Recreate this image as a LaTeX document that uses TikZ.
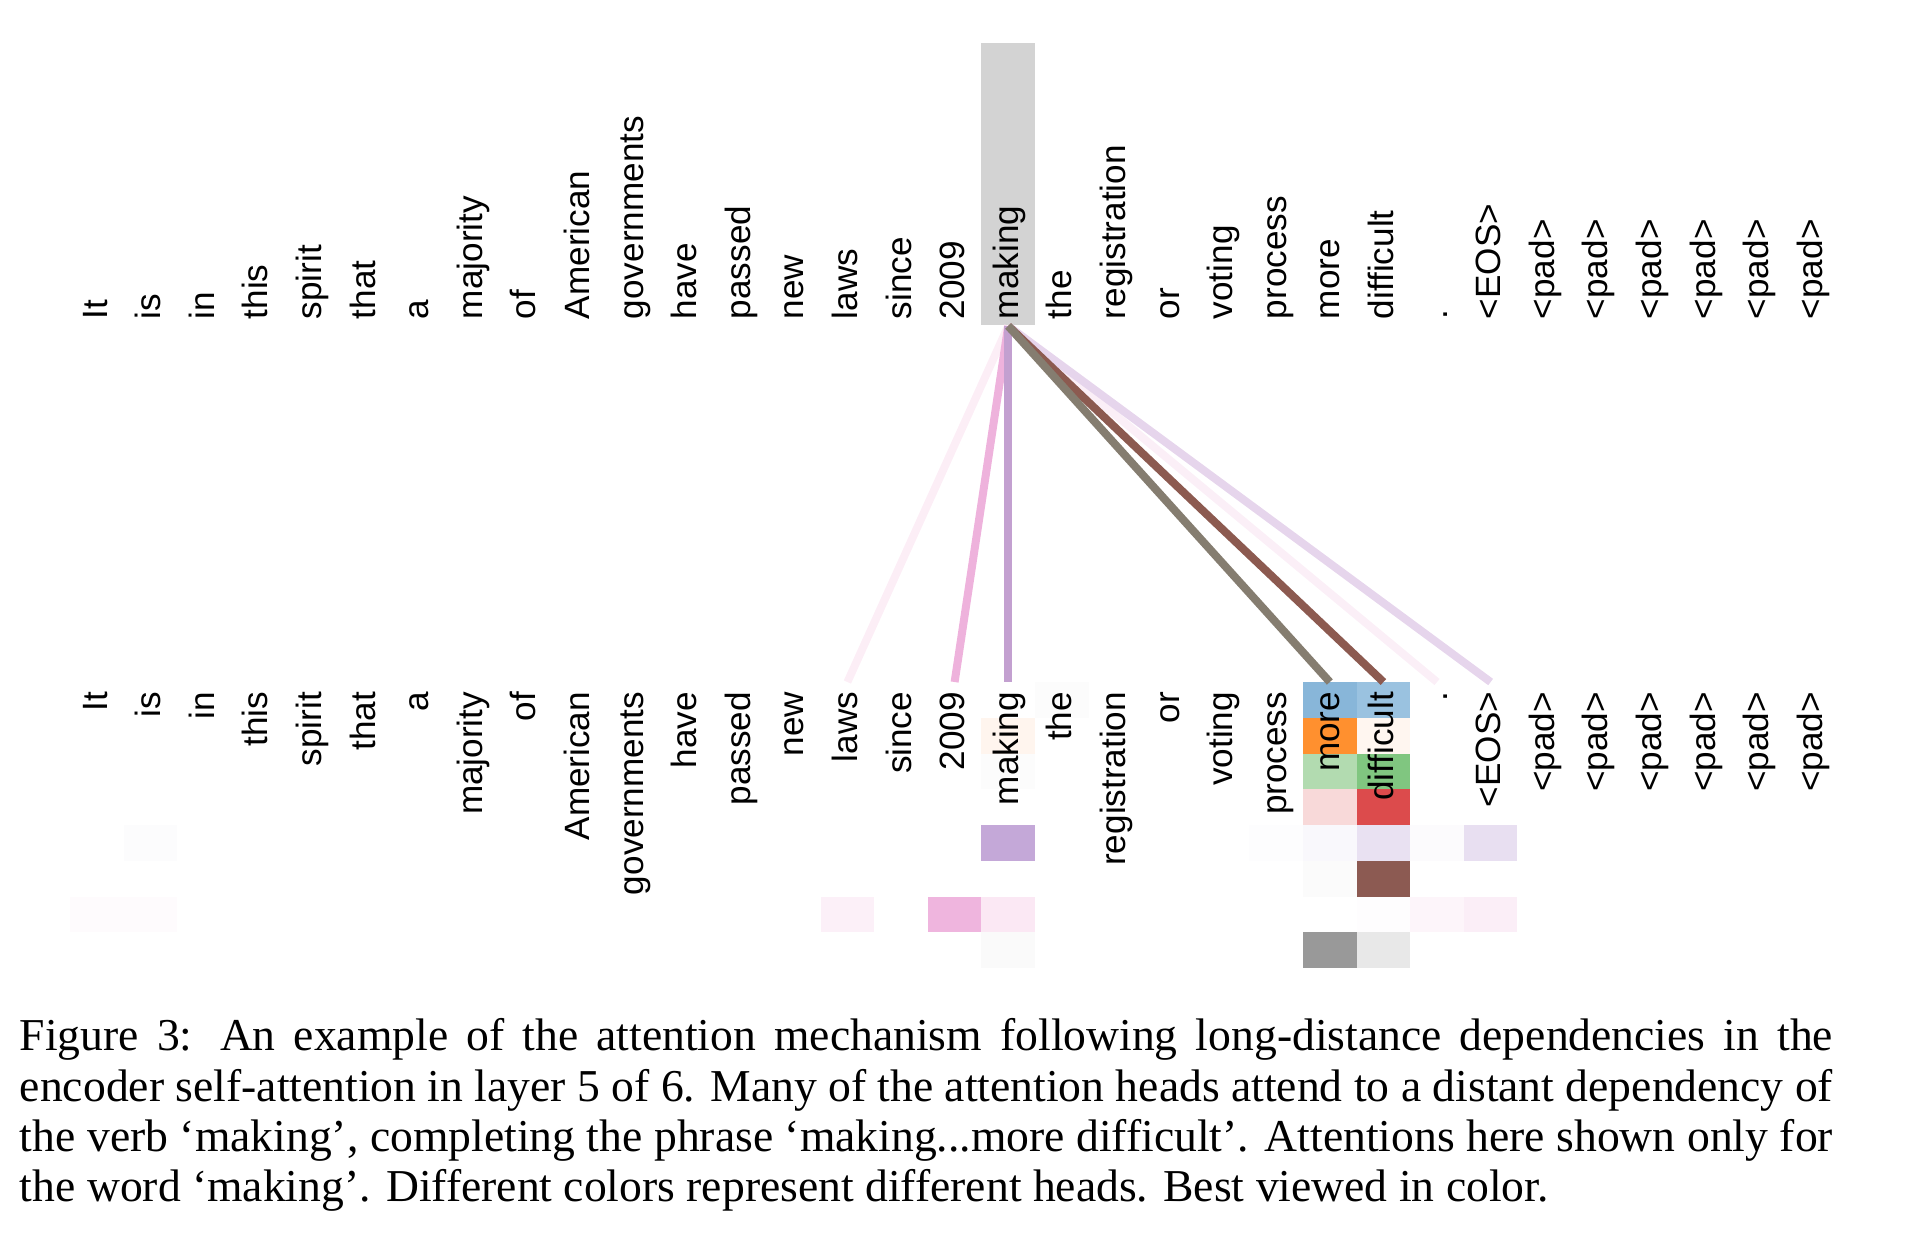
\documentclass[tikz,border=0pt]{standalone}
\usepackage{fontspec}
\setmainfont{Liberation Serif}
\newfontfamily\wordfont{Liberation Sans}
\definecolor{hlgray}{HTML}{D3D3D3}
\definecolor{lnlaws}{HTML}{FCEEF6}
\definecolor{lnyear}{HTML}{EEB2DC}
\definecolor{lnmaking}{HTML}{C3A0D0}
\definecolor{lnmore}{HTML}{857D70}
\definecolor{lndiff}{HTML}{8C5A50}
\definecolor{lndot}{HTML}{FBEFF7}
\definecolor{lneos}{HTML}{E6D5EC}
\tikzset{
  tok/.style={font=\wordfont\fontsize{7.7}{9}\selectfont, inner sep=0, rotate=90},
  toptok/.style={tok, anchor=base west},
  bottok/.style={tok, anchor=base east},
  att/.style={line width=1.75pt}
}
\begin{document}
\begin{tikzpicture}[x=0.2192pt, y=-0.2192pt]
\useasboundingbox (0,0) rectangle (1928,1244);
% highlighted query word
\node[fill=hlgray, inner sep=0, minimum width=11.84pt, minimum height=61.8pt, anchor=south] (hl) at (1008.2,326) {};
% heads, one row each
\fill[fill={rgb,255:red,252;green,252;blue,252}] (1035,682) rectangle (1088.6,717.75);
\fill[fill={rgb,255:red,136;green,182;blue,217}] (1303,682) rectangle (1356.6,717.75);
\fill[fill={rgb,255:red,154;green,194;blue,224}] (1356.6,682) rectangle (1410.2,717.75);
\fill[fill={rgb,255:red,255;green,245;blue,238}] (981.4,717.75) rectangle (1035,753.5);
\fill[fill={rgb,255:red,255;green,144;blue,47}] (1303,717.75) rectangle (1356.6,753.5);
\fill[fill={rgb,255:red,255;green,246;blue,240}] (1356.6,717.75) rectangle (1410.2,753.5);
\fill[fill={rgb,255:red,252;green,252;blue,252}] (981.4,753.5) rectangle (1035,789.25);
\fill[fill={rgb,255:red,178;green,219;blue,176}] (1303,753.5) rectangle (1356.6,789.25);
\fill[fill={rgb,255:red,128;green,198;blue,128}] (1356.6,753.5) rectangle (1410.2,789.25);
\fill[fill={rgb,255:red,248;green,217;blue,217}] (1303,789.25) rectangle (1356.6,825);
\fill[fill={rgb,255:red,220;green,75;blue,76}] (1356.6,789.25) rectangle (1410.2,825);
\fill[fill={rgb,255:red,252;green,252;blue,253}] (123.8,825) rectangle (177.4,860.75);
\fill[fill={rgb,255:red,196;green,168;blue,216}] (981.4,825) rectangle (1035,860.75);
\fill[fill={rgb,255:red,253;green,253;blue,254}] (1249.4,825) rectangle (1303,860.75);
\fill[fill={rgb,255:red,249;green,248;blue,252}] (1303,825) rectangle (1356.6,860.75);
\fill[fill={rgb,255:red,233;green,225;blue,242}] (1356.6,825) rectangle (1410.2,860.75);
\fill[fill={rgb,255:red,252;green,251;blue,253}] (1410.2,825) rectangle (1463.8,860.75);
\fill[fill={rgb,255:red,232;green,223;blue,241}] (1463.8,825) rectangle (1517.4,860.75);
\fill[fill={rgb,255:red,251;green,251;blue,251}] (1303,860.75) rectangle (1356.6,896.5);
\fill[fill={rgb,255:red,140;green,90;blue,82}] (1356.6,860.75) rectangle (1410.2,896.5);
\fill[fill={rgb,255:red,254;green,251;blue,253}] (70.2,896.5) rectangle (177.4,932.25);
\fill[fill={rgb,255:red,252;green,240;blue,248}] (820.6,896.5) rectangle (874.2,932.25);
\fill[fill={rgb,255:red,239;green,181;blue,222}] (927.8,896.5) rectangle (981.4,932.25);
\fill[fill={rgb,255:red,251;green,232;blue,244}] (981.4,896.5) rectangle (1035,932.25);
\fill[fill={rgb,255:red,254;green,253;blue,254}] (1356.6,896.5) rectangle (1410.2,932.25);
\fill[fill={rgb,255:red,253;green,245;blue,250}] (1410.2,896.5) rectangle (1463.8,932.25);
\fill[fill={rgb,255:red,251;green,238;blue,247}] (1463.8,896.5) rectangle (1517.4,932.25);
\fill[fill={rgb,255:red,250;green,250;blue,250}] (981.4,932.25) rectangle (1035,968);
\fill[fill={rgb,255:red,153;green,153;blue,153}] (1303,932.25) rectangle (1356.6,968);
\fill[fill={rgb,255:red,232;green,232;blue,232}] (1356.6,932.25) rectangle (1410.2,968);
% words, top and bottom
\node[toptok] (t0) at (107,320) {It}; \node[bottok] (b0) at (107,691) {It};
\node[toptok] (t1) at (160.6,320) {is}; \node[bottok] (b1) at (160.6,691) {is};
\node[toptok] (t2) at (214.2,320) {in}; \node[bottok] (b2) at (214.2,691) {in};
\node[toptok] (t3) at (267.8,320) {this}; \node[bottok] (b3) at (267.8,691) {this};
\node[toptok] (t4) at (321.4,320) {spirit}; \node[bottok] (b4) at (321.4,691) {spirit};
\node[toptok] (t5) at (375,320) {that}; \node[bottok] (b5) at (375,691) {that};
\node[toptok] (t6) at (428.6,320) {a}; \node[bottok] (b6) at (428.6,691) {a};
\node[toptok] (t7) at (482.2,320) {majority}; \node[bottok] (b7) at (482.2,691) {majority};
\node[toptok] (t8) at (535.8,320) {of}; \node[bottok] (b8) at (535.8,691) {of};
\node[toptok] (t9) at (589.4,320) {American}; \node[bottok] (b9) at (589.4,691) {American};
\node[toptok] (t10) at (643,320) {governments}; \node[bottok] (b10) at (643,691) {governments};
\node[toptok] (t11) at (696.6,320) {have}; \node[bottok] (b11) at (696.6,691) {have};
\node[toptok] (t12) at (750.2,320) {passed}; \node[bottok] (b12) at (750.2,691) {passed};
\node[toptok] (t13) at (803.8,320) {new}; \node[bottok] (b13) at (803.8,691) {new};
\node[toptok] (t14) at (857.4,320) {laws}; \node[bottok] (b14) at (857.4,691) {laws};
\node[toptok] (t15) at (911,320) {since}; \node[bottok] (b15) at (911,691) {since};
\node[toptok] (t16) at (964.6,320) {2009}; \node[bottok] (b16) at (964.6,691) {2009};
\node[toptok] (t17) at (1018.2,320) {making}; \node[bottok] (b17) at (1018.2,691) {making};
\node[toptok] (t18) at (1071.8,320) {the}; \node[bottok] (b18) at (1071.8,691) {the};
\node[toptok] (t19) at (1125.4,320) {registration}; \node[bottok] (b19) at (1125.4,691) {registration};
\node[toptok] (t20) at (1179,320) {or}; \node[bottok] (b20) at (1179,691) {or};
\node[toptok] (t21) at (1232.6,320) {voting}; \node[bottok] (b21) at (1232.6,691) {voting};
\node[toptok] (t22) at (1286.2,320) {process}; \node[bottok] (b22) at (1286.2,691) {process};
\node[toptok] (t23) at (1339.8,320) {more}; \node[bottok] (b23) at (1339.8,691) {more};
\node[toptok] (t24) at (1393.4,320) {difficult}; \node[bottok] (b24) at (1393.4,691) {difficult};
\node[toptok] (t25) at (1447,320) {.}; \node[bottok] (b25) at (1447,691) {.};
\node[toptok] (t26) at (1500.6,320) {<EOS>}; \node[bottok] (b26) at (1500.6,691) {<EOS>};
\node[toptok] (t27) at (1554.2,320) {<pad>}; \node[bottok] (b27) at (1554.2,691) {<pad>};
\node[toptok] (t28) at (1607.8,320) {<pad>}; \node[bottok] (b28) at (1607.8,691) {<pad>};
\node[toptok] (t29) at (1661.4,320) {<pad>}; \node[bottok] (b29) at (1661.4,691) {<pad>};
\node[toptok] (t30) at (1715,320) {<pad>}; \node[bottok] (b30) at (1715,691) {<pad>};
\node[toptok] (t31) at (1768.6,320) {<pad>}; \node[bottok] (b31) at (1768.6,691) {<pad>};
\node[toptok] (t32) at (1822.2,320) {<pad>}; \node[bottok] (b32) at (1822.2,691) {<pad>};
% ends of the attention lines
\coordinate (e14) at (847.4,682);
\coordinate (e16) at (954.6,682);
\coordinate (e17) at (1008.2,682);
\coordinate (e23) at (1329.8,682);
\coordinate (e24) at (1383.4,682);
\coordinate (e25) at (1437,682);
\coordinate (e26) at (1490.6,682);
\draw[att, draw=lnlaws] (hl.south)--(e14);
\draw[att, draw=lndot] (hl.south)--(e25);
\draw[att, draw=lneos] (hl.south)--(e26);
\draw[att, draw=lnyear] (hl.south)--(e16);
\draw[att, draw=lnmaking] (hl.south)--(e17);
\draw[att, draw=lndiff] (hl.south)--(e24);
\draw[att, draw=lnmore] (hl.south)--(e23);
% caption
\node[anchor=north west, inner sep=0, text width=397.4pt, align=justify, font=\fontsize{10}{11}\selectfont] (cap) at (19,1013.5) {\hyphenpenalty=10000\exhyphenpenalty=10000\rule{0pt}{8pt}Figure 3:\hspace{0.6em}An example of the attention mechanism following long-distance dependencies in the\linebreak encoder self-attention in layer 5 of 6. Many of the attention heads attend to a distant dependency of\linebreak the verb ‘making’, completing the phrase ‘making...more difficult’. Attentions here shown only for\linebreak the word ‘making’. Different colors represent different heads. Best viewed in color.};
\end{tikzpicture}
\end{document}
